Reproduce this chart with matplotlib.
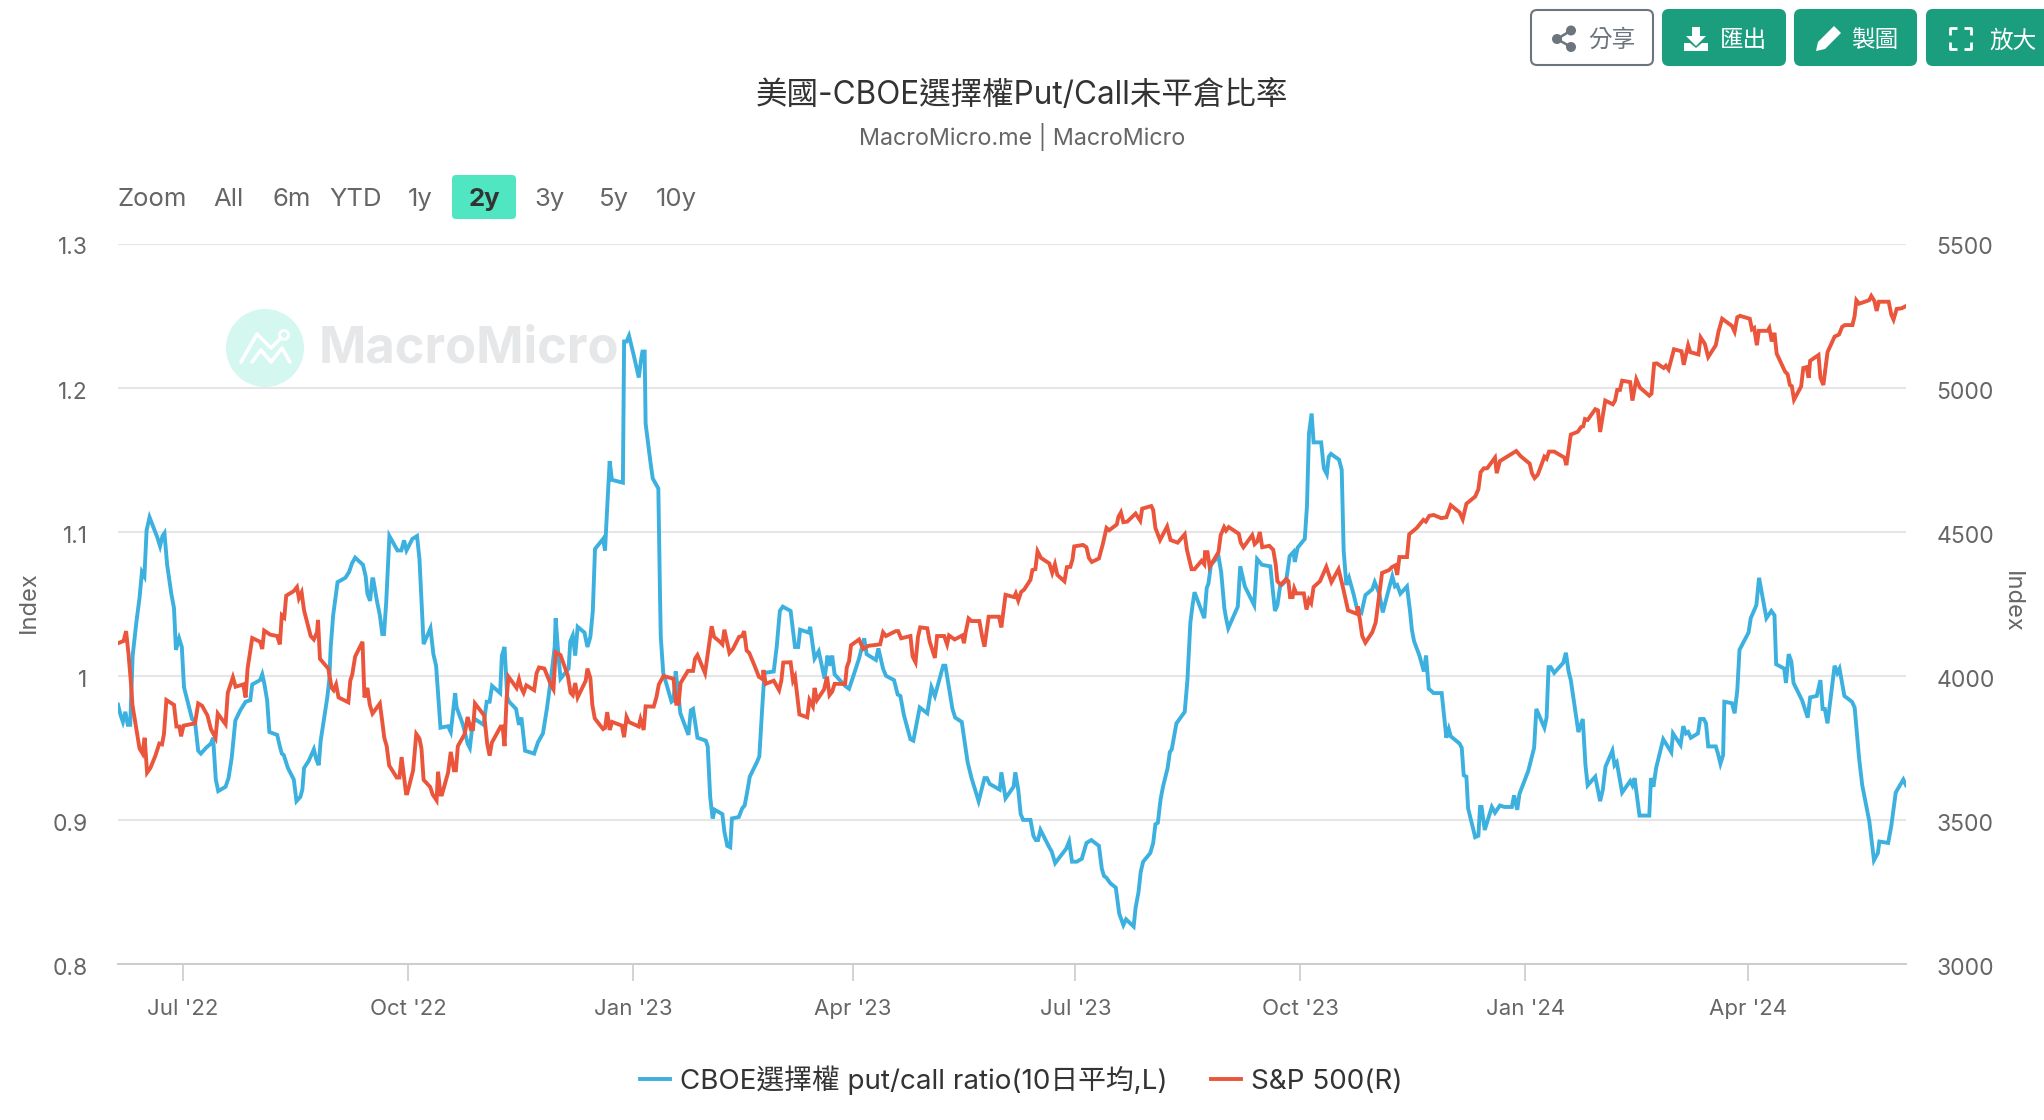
#!/usr/bin/env python3
"""US CBOE put/call open interest ratio vs S&P 500, MacroMicro style."""

import matplotlib

matplotlib.use("Agg")
import matplotlib.pyplot as plt
from matplotlib.lines import Line2D
from matplotlib.patches import Circle, FancyBboxPatch, Polygon
from matplotlib.transforms import ScaledTranslation
import pandas as pd

plt.rcParams["font.family"] = ["Inter", "Noto Sans CJK TC", "DejaVu Sans"]

START = pd.Timestamp("2022-06-04 10:00")
SPAN_DAYS = 731.3

TITLE = "美國-CBOE選擇權Put/Call未平倉比率"
SUBTITLE = "MacroMicro.me | MacroMicro"
RATIO_LABEL = "CBOE選擇權 put/call ratio(10日平均,L)"
SPX_LABEL = "S&P 500(R)"

x_tick_dates = ["2022-07-01", "2022-10-01", "2023-01-01", "2023-04-01",
                "2023-07-01", "2023-10-01", "2024-01-01", "2024-04-01"]
x_tick_labels = ["Jul '22", "Oct '22", "Jan '23", "Apr '23",
                 "Jul '23", "Oct '23", "Jan '24", "Apr '24"]
left_ticks = [0.8, 0.9, 1.0, 1.1, 1.2, 1.3]
left_tick_labels = ["0.8", "0.9", "1", "1.1", "1.2", "1.3"]
right_ticks = [3000, 3500, 4000, 4500, 5000, 5500]

# days since START
ratio_days = [
    0, 1, 2, 3, 4, 5, 6, 6.4, 7.5, 8.8, 9.8, 10.8, 11.7, 12.9, 14.5, 16.1, 17.2, 18.2, 19, 20.1,
    21.8, 22.9, 23.7, 25, 26.1, 27, 28.5, 30.3, 31.5, 32.8, 33.9, 36, 38, 38.9, 40, 41, 44, 45.2, 46.5, 48,
    50, 52.2, 54.1, 54.9, 58.1, 59, 59.8, 61, 61.9, 65.1, 66.2, 67, 67.8, 69.5, 71.9, 73, 74.6, 75.4, 76.1, 78,
    80.1, 81.1, 82.1, 82.9, 85.6, 86.4, 87, 88, 89.8, 93, 94.5, 95.7, 97, 100.2, 101.3, 102, 103.1, 104, 104.4, 105.9,
    107.1, 108.1, 108.8, 109.7, 111, 114.3, 115.9, 117, 118, 120.4, 122.3, 123.3, 125, 127.8, 129, 130.1, 131.9, 135, 136.1, 137.9,
    138.5, 141.1, 143, 143.9, 145, 146, 149.5, 150.8, 152, 153, 156.3, 157, 158.1, 159.2, 160, 162.8, 164, 165, 166.5, 170.2,
    171.8, 173.8, 175.4, 177, 178.6, 179, 180, 181, 184.3, 185, 186, 187, 188, 190.8, 192, 193.2, 194.2, 195.1, 198.4, 199.2,
    200, 201.1, 202, 206.5, 207, 208, 209, 211, 213, 214, 214.5, 215.4, 215.8, 217.8, 218.7, 221, 221.7, 222, 223, 226.4,
    227.2, 228.1, 228.8, 230, 233.3, 234.3, 235.2, 237, 240.4, 241.2, 242.2, 243.2, 244.1, 246.2,
    247.2, 248, 249.2, 250.4, 251.1, 253.9, 255.3, 256.3, 257.3, 258.4, 261.3, 262.3, 263.5, 264.4, 268.2, 269.4, 270.7, 271.9, 275.1, 276.9,
    278.2, 279, 282.5, 283.1, 284.9, 286.6, 289, 290.2, 290.9, 292.1, 293.1, 297.4, 299, 300.4, 303.1, 305.2, 306.2, 310, 311, 312.9,
    314.1, 317.4, 318.9, 320, 321.4, 324.1, 325.3, 327.9, 331, 332.7, 334.1, 337.5, 338.4, 341.3, 342.4, 345.1, 347.5, 349.1, 352, 354.4,
    355.4, 356.5, 360.6, 361.3, 363, 366.3, 367, 368.2, 369.2, 370.2, 373.2, 374.4, 375.4, 376.3, 377.3, 380.9, 381.9, 383.3, 387.8, 389,
    390.2, 392.1, 394.2, 396.1, 398.1, 401.2, 402.4, 403.3, 404.2, 405.9, 408.1, 409.5, 411.2, 412.3, 415.4, 416.2, 417.4, 418.3, 419.3, 422.2,
    423.4, 424.3, 425.3, 426.4, 427.4, 429.3, 430.2, 431, 432.9, 436.3, 437.4, 438.6, 439.5, 440.3, 444.3, 445.3, 446, 447, 450.1, 451.2,
    452.5, 453.2, 454.1, 458, 459, 460.9, 463.5, 464.7, 465.9, 467.9, 471.3, 473.2, 474.2, 475.3, 477.8, 479.2, 480.8, 481.3, 482.5, 485.4,
    486.3, 487.1, 488.2, 489, 492.1, 493.2, 494.4, 495.2, 496.1, 499.4,
    500.5, 501.3, 502.4, 503.5, 505.3, 506.7, 508.6, 510.2, 513, 514, 515.9, 517.3, 519.9, 521.2, 522.3, 523.2, 524.5, 527.2, 528.5, 529.2,
    530.1, 532.3, 534.1, 535, 536.1, 538.1, 541.4, 543.3, 544.3, 545.1, 548.7, 549.6, 550.4, 551.5, 552.2, 555.1, 556.4, 557.1, 557.7, 559,
    561.9, 563.2, 565.2, 567, 570.1, 571, 572.3, 573.2, 576.8, 579.2, 580.1, 583.4, 584.3, 585.1, 586, 587.4, 591.1, 592.2, 593.3, 594.2,
    597.3, 599.1, 600.2, 601.1, 604.2, 606.2, 607.3, 608.4, 611.2, 612.1, 613, 615.2, 618.5, 619.4, 620.3, 622.3, 626.3, 627, 628, 629.1,
    632, 635.3, 636, 639.1, 640.2, 641.3, 642.2, 643.3, 646.2, 647.1, 648.6, 649.5, 650.4, 653.5, 654.4, 655.4, 656.5, 657, 660.1, 661.2,
    662.3, 663.2, 666.9, 667.8, 670.1, 671.2, 674.2, 676.2, 677.5, 678.2, 681.5, 682.2, 683.3, 684.4, 685.3, 688.8, 691.1, 692.1, 694.8, 696.3,
    697.2, 698.1, 699.2, 702.1, 703.2, 704.1, 706.1, 709.2, 710.3, 712.1, 713.4, 716.3, 718.2, 719.8, 720.4, 724, 725.3, 727.1, 730.2, 731.3,
]
ratio_values = [
    .980, .973, .968, .975, .966, .966, 1.014, 1.020, 1.037, 1.054, 1.072, 1.069, 1.101, 1.110, 1.103, 1.096, 1.090, 1.097, 1.099, 1.077,
    1.057, 1.047, 1.018, 1.026, 1.020, .992, .982, .970, .968, .948, .946, .950, .953, .957, .928, .920, .923, .929, .943, .969,
    .976, .982, .983, .994, .997, 1.001, .995, .983, .961, .959, .951, .946, .945, .936, .928, .913, .916, .921, .936, .941,
    .949, .942, .938, .955, .985, .997, 1.020, 1.042, 1.065, 1.068, 1.072, 1.078, 1.082, 1.077, 1.069, 1.057, 1.052, 1.067, 1.067, 1.052,
    1.042, 1.029, 1.029, 1.051, 1.097, 1.087, 1.087, 1.094, 1.087, 1.095, 1.097, 1.081, 1.022, 1.033, 1.015, 1.007, .964, .965, .961, .988,
    .978, .966, .953, .950, .966, .970, .966, .982, .982, .993, .988, 1.014, 1.020, .985, .982, .977, .966, .971, .948, .946,
    .954, .960, .977, .997, 1.020, 1.040, 1.017, .998, 1.005, 1.024, 1.028, 1.014, 1.034, 1.030, 1.020, 1.027, 1.045, 1.088, 1.095, 1.087,
    1.114, 1.149, 1.136, 1.134, 1.232, 1.232, 1.236, 1.222, 1.207, 1.220, 1.225, 1.225, 1.175, 1.148, 1.137, 1.130, 1.054, 1.027, 1.002, .982,
    .983, 1.003, .993, .974, .959, .976, .977, .957, .955, .951, .916, .901, .907, .905,
    .904, .892, .882, .881, .901, .902, .908, .910, .919, .930, .940, .944, .978, 1.002, 1.003, 1.020, 1.045, 1.048, 1.045, 1.020,
    1.020, 1.032, 1.030, 1.034, 1.012, 1.017, .998, 1.014, 1.007, 1.014, 1.001, .993, .991, .998, 1.012, 1.026, 1.015, 1.011, 1.019, 1.005,
    1.000, .997, .987, .986, .973, .956, .955, .978, .974, .992, .986, 1.007, 1.007, .977, .971, .968, .940, .929, .913, .929,
    .929, .925, .921, .933, .915, .923, .933, .921, .904, .900, .900, .889, .886, .886, .893, .881, .878, .870, .880, .885,
    .871, .871, .873, .884, .886, .882, .866, .861, .860, .856, .853, .835, .827, .831, .826, .839, .850, .864, .871, .877,
    .884, .897, .898, .914, .923, .936, .947, .949, .967, .975, .997, 1.037, 1.049, 1.058, 1.040, 1.061, 1.064, 1.077, 1.083, 1.072,
    1.047, 1.040, 1.033, 1.048, 1.076, 1.062, 1.053, 1.049, 1.081, 1.077, 1.076, 1.045, 1.049, 1.062, 1.066, 1.083, 1.086, 1.079, 1.089, 1.095,
    1.118, 1.168, 1.182, 1.162, 1.162, 1.144, 1.140, 1.152, 1.154, 1.150,
    1.143, 1.087, 1.063, 1.068, 1.057, 1.047, 1.044, 1.056, 1.060, 1.065, 1.057, 1.044, 1.061, 1.069, 1.062, 1.063, 1.057, 1.062, 1.044, 1.032,
    1.024, 1.014, 1.003, 1.014, .991, .988, .988, .957, .963, .958, .953, .950, .931, .930, .908, .888, .889, .909, .909, .893,
    .909, .905, .910, .909, .909, .917, .907, .918, .934, .950, .977, .964, .971, 1.006, 1.006, 1.002, 1.009, 1.016, 1.003, .997,
    .961, .970, .938, .924, .930, .913, .921, .937, .948, .938, .940, .919, .927, .924, .929, .903, .903, .929, .923, .936,
    .956, .947, .960, .952, .965, .960, .961, .957, .960, .970, .970, .967, .951, .951, .946, .939, .945, .982, .981, .974,
    .990, 1.018, 1.030, 1.040, 1.049, 1.068, 1.040, 1.045, 1.042, 1.008, 1.005, .995, 1.015, 1.010, .995, .983, .971, .985, .986, .997,
    .977, .977, .967, 1.007, 1.002, 1.005, .986, .982, .978, .943, .924, .899, .872, .877, .885, .884, .896, .919, .928, .924,
]
spx_days = [
    0, 2.3, 3.3, 4.3, 5.3, 5.9, 7.2, 8.8, 10, 10.9, 11.9, 13.3, 15.3, 16.9, 18, 18.8, 19.8, 22.9, 23.9, 25.1,
    25.8, 26.8, 31.5, 32.8, 34.4, 36.6, 38, 39.9, 40.8, 44, 44.9, 47, 48.1, 51.2, 52.2, 53, 54.9, 58.1, 59, 59.8,
    62.2, 65.1, 66.2, 67, 68, 68.8, 71.9, 73.2, 74, 75.1, 76.1, 78.8, 80.1, 81.4, 81.8, 82.6, 86, 87.4, 88.2, 89.2,
    90.2, 94.2, 95, 95.8, 97, 100, 100.8, 102, 103, 104.1, 107.1, 108.1, 108.9, 109.9, 110.9, 114, 115.1, 116, 117, 117.8,
    118.3, 120.7, 122, 123.3, 124.1, 125, 127.7, 128.7, 130.3, 130.9, 131.9, 132.5, 135, 136.1, 137.4, 138.2, 139, 141.8, 143, 144.3,
    145.2, 146, 149.8, 151, 152, 152.9, 156.5, 157.3, 158.1, 158.9, 159.7, 163, 164, 164.9, 165.9, 167, 170.2, 171.2, 172.2, 174.4,
    177, 178.1, 179, 181, 184, 185.1, 186, 187, 188, 191.3, 192, 193.2, 194, 195, 198.4, 199.2, 200.1, 201.1, 202.1, 206.1,
    207, 208, 208.9, 213, 213.7, 215, 215.8, 219.1, 220.2, 221.2, 223.1, 227.2, 228.3, 229.3, 230.1, 233.1, 235.2, 236, 237, 240.1,
    241.7, 242.8, 243.8, 246.2,
    247.2, 248, 250.1, 251.5, 254, 255.3, 256.1, 257.1, 258.2, 260.4, 262.1, 263.7, 264, 264.9, 268.2, 270.4, 271.3, 272.1, 275.1, 276.1,
    276.9, 278.7, 281.9, 282.8, 284.2, 284.9, 285.9, 288.8, 290, 291, 292.1, 293.1, 297.4, 298.1, 299, 299.8, 303.1, 304.8, 306.9, 311.7,
    312.9, 314.1, 318.1, 319.1, 320.3, 324.1, 325, 326.2, 327.2, 328.1, 331, 332, 334.1, 335, 337.9, 339.1, 339.9, 342.2, 345.3, 346,
    346.7, 347.9, 349.1, 352.3, 353.4, 354.4, 356.1, 360.3, 361.3, 363, 366.5, 367.2, 368.2, 369.4, 370.6, 373.2, 374, 375.2, 376.1, 377.5,
    380.9, 382.1, 383.2, 384.2, 387.1, 388.1, 389.5, 390.4, 391.1, 394.7, 396.1, 397.1, 398.3, 401.2, 402.8, 404.3, 405.4, 408.5, 409.2, 410.2,
    411.2, 412.8, 416.2, 418.1, 418.9, 422.6, 423.4, 424.3, 426.2, 429.1, 430.5, 433.4, 436.3, 437.2, 439.1, 440.3, 443.2, 444.3, 444.6, 445.6,
    446.5, 450.1, 451, 452.4, 453.2, 454.3, 458.4, 459.2, 460.3, 463.9, 464.9, 466, 467, 468, 470.9, 472.5, 473.5, 474.2, 475.6, 477.8,
    478.7, 479.4, 480.4, 481.1, 481.9, 485, 486.1, 487.1, 488, 489, 491.6, 494.2, 496.3, 499.2,
    500.9, 503.1, 506.7, 507.1, 507.8, 508.9, 510.2, 513, 514.4, 515.9, 517, 519.9, 521, 522.4, 523.2, 524.1, 527.2, 528.1, 531.2, 533.9,
    534.9, 536.3, 538.1, 541.2, 543.3, 545.1, 548.7, 550, 551.5, 555.1, 556.4, 557.3, 558.6, 560, 563.2, 563.9, 565.2, 571.9, 573.7, 577.4,
    578.3, 579.4, 580.7, 583.4, 584.3, 585.3, 587.4, 591.6, 592.4, 594.2, 597.1, 598.4, 599.3, 600, 601.1, 604.2, 605.3, 606.2, 608.3, 611.4,
    612.3, 613.2, 614.3, 615.2, 618.5, 619.4, 621, 622.5, 626.3, 627.2, 628.3, 629.4, 632.2, 633.1, 634.2, 636.4, 639.5, 640.4, 642.2, 643.1,
    646.4, 647.3, 649, 650.4, 653.5, 654.6, 656.1, 660.1, 661.2, 662.3, 663.4, 667.4, 668.3, 669.2, 670.3, 671.1, 674.7, 675.4, 676.4, 677.5,
    678.4, 681.8, 682.9, 683.8, 684.6, 685.5, 688.4, 689.3, 690.6, 691.5, 692.1, 695.5, 696.3, 697.5, 699.2, 702.1, 703.9, 705.2, 706.3, 709.4,
    710.3, 711, 712.1, 716.2, 717.1, 718.4, 719.3, 720.2, 724.2, 725.3, 726.2, 727.5, 729.5, 731.3,
]
spx_values = [
    4113, 4121, 4155, 4076, 3975, 3899, 3832, 3748, 3731, 3785, 3664, 3681, 3723, 3765, 3762, 3798, 3916, 3899, 3824, 3824,
    3790, 3827, 3835, 3904, 3896, 3862, 3815, 3785, 3869, 3832, 3941, 3995, 3962, 3970, 3925, 4025, 4131, 4118, 4093, 4157,
    4143, 4138, 4109, 4210, 4202, 4278, 4294, 4308, 4269, 4289, 4227, 4138, 4126, 4151, 4194, 4059, 4025, 3958, 3950, 3970,
    3925, 3908, 3983, 4004, 4067, 4118, 3925, 3958, 3899, 3869, 3904, 3840, 3785, 3756, 3689, 3647, 3647, 3718, 3647, 3592,
    3592, 3672, 3798, 3782, 3748, 3639, 3614, 3588, 3568, 3667, 3588, 3588, 3664, 3736, 3672, 3672, 3756, 3798, 3857, 3815,
    3815, 3904, 3862, 3765, 3723, 3768, 3824, 3824, 3756, 3916, 3997, 3958, 3988, 3958, 3941, 3967, 3950, 4009, 4029, 4025,
    3970, 3953, 4081, 4072, 4000, 3941, 3933, 3975, 3925, 3983, 4025, 3992, 3899, 3852, 3815, 3819, 3874, 3812, 3840, 3827,
    3787, 3857, 3840, 3824, 3849, 3812, 3894, 3893, 3925, 3970, 3999, 3990, 3903, 3903, 3975, 4017, 4017, 4059, 4072, 4009,
    4104, 4172, 4135, 4118,
    4109, 4160, 4079, 4093, 4135, 4138, 4155, 4088, 4079, 4034, 3997, 3988, 4020, 3972, 3983, 3950, 3983, 4046, 4047, 3983,
    3997, 3866, 3856, 3916, 3894, 3958, 3916, 3953, 3997, 3933, 3945, 3972, 3972, 4030, 4051, 4106, 4126, 4093, 4104, 4109,
    4151, 4138, 4155, 4155, 4130, 4138, 4067, 4047, 4135, 4168, 4165, 4118, 4062, 4138, 4138, 4109, 4140, 4126, 4140, 4113,
    4151, 4199, 4190, 4190, 4138, 4101, 4205, 4205, 4168, 4281, 4273, 4286, 4261, 4291, 4299, 4333, 4367, 4370, 4432, 4409,
    4390, 4357, 4387, 4350, 4328, 4377, 4378, 4404, 4449, 4454, 4446, 4409, 4395, 4407, 4457, 4513, 4505, 4525, 4552, 4567,
    4533, 4535, 4563, 4538, 4580, 4589, 4575, 4513, 4471, 4518, 4471, 4462, 4491, 4437, 4370, 4370, 4399, 4387, 4429, 4429,
    4378, 4429, 4488, 4516, 4504, 4516, 4493, 4462, 4446, 4488, 4457, 4466, 4499, 4446, 4451, 4437, 4387, 4328, 4316, 4336,
    4328, 4273, 4273, 4303, 4286, 4286, 4230, 4264, 4252, 4308, 4328, 4378, 4325, 4370,
    4311, 4227, 4215, 4241, 4202, 4138, 4115, 4151, 4185, 4286, 4357, 4367, 4377, 4383, 4350, 4412, 4412, 4491, 4513, 4541,
    4535, 4555, 4558, 4547, 4550, 4592, 4567, 4543, 4597, 4622, 4647, 4706, 4720, 4720, 4757, 4703, 4745, 4780, 4762, 4736,
    4703, 4686, 4698, 4760, 4753, 4778, 4778, 4757, 4731, 4837, 4847, 4863, 4866, 4891, 4888, 4925, 4921, 4846, 4955, 4942,
    4955, 4992, 4992, 5024, 5019, 4955, 5029, 5000, 4972, 4979, 5083, 5084, 5068, 5076, 5063, 5133, 5126, 5079, 5147, 5123,
    5115, 5174, 5152, 5106, 5147, 5194, 5239, 5214, 5194, 5244, 5249, 5239, 5202, 5207, 5147, 5197, 5197, 5207, 5160, 5190,
    5118, 5056, 5046, 5009, 5005, 4958, 5004, 5068, 5071, 5034, 5093, 5113, 5034, 5009, 5123, 5177, 5184, 5211, 5217, 5217,
    5249, 5303, 5291, 5303, 5318, 5300, 5266, 5298, 5298, 5253, 5236, 5273, 5275, 5283,
]

BLUE = "#3cb0de"
RED = "#ea553b"
GREEN = "#1b9e7d"
TEXT = "#333333"
MUTED = "#666666"


def to_dates(days):
    return START + pd.to_timedelta(days, unit="D")


def draw_chrome(bg):
    """Buttons, range selector and watermark, drawn in pixel coordinates."""
    buttons = [(1531, 122, "white", "分享", 1612, "#6c757d"),
               (1663, 122, GREEN, "匯出", 1743, "white"),
               (1795, 121, GREEN, "製圖", 1875, "white"),
               (1927, 130, GREEN, "放大", 2013, "white")]
    for x0, width, face, label, label_x, color in buttons:
        edge = "#6c757d" if face == "white" else face
        bg.add_patch(FancyBboxPatch((x0, 10), width, 55, boxstyle="round,pad=0,rounding_size=6",
                                    fc=face, ec=edge, lw=1.5))
        bg.text(label_x, 41, label, ha="center", va="center", fontsize=17, color=color)

    # share icon
    bg.plot([1571, 1557, 1571], [30.5, 39, 47], color="#6c757d", lw=1.8)
    for cx, cy in [(1571, 30.5), (1557, 39), (1571, 47)]:
        bg.add_patch(Circle((cx, cy), 5, fc="#6c757d", ec="none"))
    # download icon
    bg.add_patch(Polygon([(1692, 27), (1700, 27), (1700, 36), (1706, 36), (1696, 46), (1686, 36), (1692, 36)],
                         fc="white", ec="none"))
    bg.add_patch(Polygon([(1684, 43), (1690, 43), (1696, 48), (1702, 43), (1708, 43), (1708, 51), (1684, 51)],
                         fc="white", ec="none"))
    # pencil icon
    bg.add_patch(Polygon([(1816, 51), (1818, 42), (1834, 26), (1841, 33), (1825, 49)], fc="white", ec="none"))
    # fullscreen icon
    for xs, ys in [([1950, 1950, 1957], [35, 28, 28]), ([1964, 1971, 1971], [28, 28, 35]),
                   ([1950, 1950, 1957], [42, 49, 49]), ([1964, 1971, 1971], [49, 49, 42])]:
        bg.plot(xs, ys, color="white", lw=2, solid_capstyle="butt")

    # range selector
    selector = [("Zoom", 152), ("All", 228), ("6m", 292), ("YTD", 356), ("1y", 420),
                ("3y", 550), ("5y", 614), ("10y", 676)]
    for label, cx in selector:
        bg.text(cx, 199.5, label, ha="center", va="center", fontsize=18.5, color=MUTED)
    bg.add_patch(FancyBboxPatch((452, 175), 64, 44, boxstyle="round,pad=0,rounding_size=4",
                                fc="#50e6c2", ec="none"))
    bg.text(484, 199.5, "2y", ha="center", va="center", fontsize=18.5, color=TEXT, fontweight="bold")

    # watermark
    bg.add_patch(Circle((265, 348), 39, fc="#d4f7ef", ec="none"))
    bg.plot([241, 257, 271, 281], [362, 334, 348, 338], color="white", lw=2.6, solid_capstyle="round")
    bg.plot([252, 261, 271, 282, 290], [362, 350, 362, 348, 362], color="white", lw=2.6, solid_capstyle="round")
    bg.add_patch(Circle((284, 335), 4.5, fc="none", ec="white", lw=2))
    bg.text(319, 349, "MacroMicro", ha="left", va="center", fontsize=36.5, color="#e6e7e9",
            fontweight="bold")


def shift_labels(labels, fig, dy_px):
    offset = ScaledTranslation(0, -dy_px / fig.dpi, fig.dpi_scale_trans)
    for label in labels:
        label.set_transform(label.get_transform() + offset)


def main():
    fig = plt.figure(figsize=(20.44, 11.2), dpi=100, facecolor="white")

    bg = fig.add_axes([0, 0, 1, 1], zorder=0)
    bg.set_xlim(0, 2044)
    bg.set_ylim(1120, 0)
    bg.axis("off")
    draw_chrome(bg)

    ax = fig.add_axes([118 / 2044, 1 - 964 / 1120, 1788 / 2044, (964 - 243.5) / 1120], zorder=1)
    ax.patch.set_alpha(0)
    right = ax.twinx()
    right.patch.set_alpha(0)

    ax.plot(to_dates(ratio_days), ratio_values, color=BLUE, lw=2.8, solid_joinstyle="miter", label=RATIO_LABEL)
    right.plot(to_dates(spx_days), spx_values, color=RED, lw=2.8, solid_joinstyle="miter", label=SPX_LABEL)

    ax.set_xlim(START, START + pd.Timedelta(days=SPAN_DAYS))
    ax.set_ylim(0.8, 1.3)
    right.set_ylim(3000, 5500)

    ax.set_xticks(pd.to_datetime(x_tick_dates))
    ax.set_xticklabels(x_tick_labels)
    ax.set_yticks(left_ticks)
    ax.set_yticklabels(left_tick_labels)
    right.set_yticks(right_ticks)
    right.set_yticklabels([str(v) for v in right_ticks])

    ax.grid(True, axis="y", color="#e6e6e6", linewidth=1.5)
    ax.set_axisbelow(True)
    ax.tick_params(axis="x", length=12, width=1.2, color="#cccccc", labelsize=16, labelcolor=MUTED, pad=13)
    ax.tick_params(axis="y", length=0, labelsize=16.5, labelcolor=MUTED, pad=22)
    right.tick_params(axis="y", length=0, labelsize=16.5, labelcolor=MUTED, pad=22)
    shift_labels(ax.get_yticklabels(), fig, 2.5)
    shift_labels(right.get_yticklabels(), fig, 2.5)

    for axis in (ax, right):
        for side in ("top", "left", "right"):
            axis.spines[side].set_visible(False)
        axis.spines["bottom"].set_color("#cccccc")
        axis.spines["bottom"].set_linewidth(1.2)

    fig.text(1022 / 2044, 1 - 95 / 1120, TITLE, ha="center", va="center", fontsize=22.7, color=TEXT)
    fig.text(1022 / 2044, 1 - 137 / 1120, SUBTITLE, ha="center", va="center", fontsize=16.8, color=MUTED)
    fig.text(29 / 2044, 1 - 602 / 1120, "Index", ha="center", va="center", rotation=90, fontsize=17, color=MUTED)
    fig.text(2012 / 2044, 1 - 602 / 1120, "Index", ha="center", va="center", rotation=270, fontsize=17, color=MUTED)

    handles = [Line2D([], [], color=BLUE, lw=2.8), Line2D([], [], color=RED, lw=2.8)]
    fig.legend(handles, [RATIO_LABEL, SPX_LABEL], loc="center", bbox_to_anchor=(1021 / 2044, 1 - 1080 / 1120),
               ncol=2, frameon=False, prop={"size": 20}, labelcolor=TEXT, handlelength=1.08,
               handletextpad=0.375, columnspacing=1.55, borderpad=0, borderaxespad=0)

    fig.savefig("out.png", dpi=100)
    plt.close(fig)


if __name__ == "__main__":
    main()
